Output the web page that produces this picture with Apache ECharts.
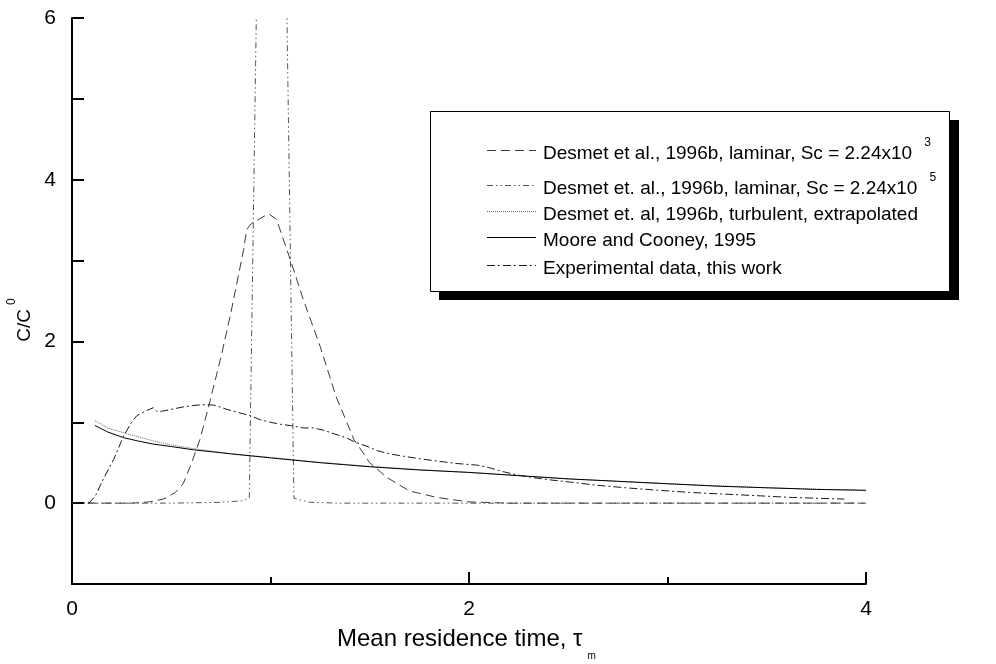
<!DOCTYPE html>
<html>
<head>
<meta charset="utf-8">
<script src="https://cdn.jsdelivr.net/npm/echarts@6/dist/echarts.min.js"></script>
<style>
  html, body { margin: 0; padding: 0; background: #fff; }
  #chart { width: 996px; height: 664px; }
</style>
</head>
<body>
<div id="chart"></div>
<script>
// Residence-time distributions: C/C0 versus mean residence time (tau_m)

// Desmet et al., 1996b, laminar, Sc = 2.24x10^3
const laminarSc3 = [
  [0.08, 0], [0.30, 0], [0.39, 0.015], [0.46, 0.05], [0.52, 0.13], [0.56, 0.24],
  [0.60, 0.48], [0.645, 0.79], [0.695, 1.26], [0.75, 1.80], [0.80, 2.35],
  [0.865, 3.14], [0.88, 3.38], [0.90, 3.45], [0.99, 3.58], [1.03, 3.51],
  [1.10, 3.01], [1.165, 2.52], [1.25, 1.94], [1.33, 1.32], [1.42, 0.79],
  [1.50, 0.50], [1.585, 0.32], [1.70, 0.15], [1.84, 0.07], [2.00, 0.015],
  [2.20, 0], [4.00, 0]
];

// Desmet et al., 1996b, laminar, Sc = 2.24x10^5 (peak runs far above the axis)
const laminarSc5 = [
  [0.08, 0], [0.50, 0], [0.75, 0.01], [0.86, 0.03], [0.893, 0.06],
  [1.006, 19], [1.118, 0.06], [1.20, 0.01], [1.35, 0], [4.00, 0]
];

// Desmet et al., 1996b, turbulent, extrapolated
const turbulent = [
  [0.116, 1.02], [0.18, 0.93], [0.275, 0.86], [0.35, 0.81], [0.41, 0.77],
  [0.50, 0.72], [0.61, 0.675], [0.80, 0.61], [1.00, 0.565], [1.25, 0.505],
  [1.50, 0.455], [1.75, 0.415], [2.00, 0.38], [2.50, 0.30], [3.00, 0.24],
  [3.50, 0.19], [4.00, 0.155]
];

// Moore and Cooney, 1995
const mooreCooney = [
  [0.116, 0.96], [0.18, 0.88], [0.26, 0.81], [0.33, 0.77], [0.41, 0.73],
  [0.50, 0.70], [0.61, 0.66], [0.80, 0.61], [1.00, 0.56], [1.25, 0.50],
  [1.50, 0.45], [1.75, 0.41], [2.00, 0.38], [2.25, 0.34], [2.50, 0.30],
  [2.75, 0.27], [3.00, 0.24], [3.25, 0.21], [3.50, 0.19], [3.75, 0.17],
  [4.00, 0.16]
];

// Experimental data, this work
const experimental = [
  [0, 0], [0.05, 0], [0.09, 0.01], [0.12, 0.10], [0.158, 0.30], [0.21, 0.54],
  [0.26, 0.83], [0.30, 1.00], [0.326, 1.08], [0.37, 1.14], [0.41, 1.18],
  [0.43, 1.13], [0.46, 1.14], [0.56, 1.19], [0.62, 1.21], [0.68, 1.22],
  [0.72, 1.21], [0.78, 1.16], [0.84, 1.12], [0.90, 1.08], [0.95, 1.03],
  [1.00, 1.00], [1.05, 0.975], [1.10, 0.96], [1.165, 0.93], [1.215, 0.93],
  [1.27, 0.90], [1.33, 0.85], [1.38, 0.81], [1.43, 0.75], [1.50, 0.69],
  [1.535, 0.65], [1.60, 0.61], [1.67, 0.58], [1.75, 0.55], [1.84, 0.52],
  [1.94, 0.49], [2.04, 0.47], [2.10, 0.44], [2.17, 0.39], [2.24, 0.35],
  [2.31, 0.32], [2.40, 0.29], [2.51, 0.26], [2.65, 0.22], [2.79, 0.19],
  [2.95, 0.16], [3.13, 0.13], [3.30, 0.11], [3.47, 0.09], [3.63, 0.07],
  [3.76, 0.06], [3.89, 0.05]
];

// Axis tick labels
const xTickLabels = [0, 2, 4];
const yTickLabels = [0, 2, 4, 6];

const FONT = '"Liberation Sans", Arial, Helvetica, sans-serif';

const styles = {
  sc3:   { color: '#3a3a3a', type: [9, 5] },
  sc5:   { color: '#555555', type: [6, 3, 1.5, 3, 1.5, 3] },
  turb:  { color: '#666666', type: [1, 1] },
  moore: { color: '#000000', type: 'solid' },
  exp:   { color: '#1a1a1a', type: [8, 3, 2, 3] }
};

function lineSeries(name, data, st) {
  return {
    name: name, type: 'line', data: data, showSymbol: false, symbol: 'none',
    clip: true, animation: false, silent: true,
    lineStyle: { color: st.color, width: 1, type: st.type }, z: 3
  };
}

// Legend block (boxed, with a drop shadow)
const legendRows = [
  { y: 150, st: styles.sc3, text: '{t|Desmet et al., 1996b, laminar, Sc = 2.24x10}{s|3}' },
  { y: 185, st: styles.sc5, text: '{t|Desmet et. al., 1996b, laminar, Sc = 2.24x10}{s|5}' },
  { y: 211, st: styles.turb, text: '{t|Desmet et. al, 1996b, turbulent, extrapolated}' },
  { y: 237, st: styles.moore, text: '{t|Moore and Cooney, 1995}' },
  { y: 265, st: styles.exp, text: '{t|Experimental data, this work}' }
];

const graphics = [
  { type: 'rect', shape: { x: 439, y: 120, width: 520, height: 180 }, style: { fill: '#000' }, z: 10 },
  { type: 'rect', shape: { x: 430.5, y: 111.5, width: 519, height: 180 }, style: { fill: '#fff', stroke: '#000', lineWidth: 1 }, z: 11 }
];
legendRows.forEach(function (r) {
  graphics.push({
    type: 'line', z: 12,
    shape: { x1: 487, y1: r.y + 0.5, x2: 536, y2: r.y + 0.5 },
    style: { stroke: r.st.color, lineWidth: 1, lineDash: Array.isArray(r.st.type) ? r.st.type : null }
  });
  graphics.push({
    type: 'text', z: 12, x: 543, y: r.y,
    style: {
      text: r.text, verticalAlign: 'middle', align: 'left',
      rich: {
        t: { fontFamily: FONT, fontSize: 19, fill: '#000', lineHeight: 26, verticalAlign: 'bottom' },
        s: { fontFamily: FONT, fontSize: 12, fill: '#000', lineHeight: 26, verticalAlign: 'top', padding: [0, 0, 0, 12] }
      }
    }
  });
});

// x-axis title with a separately placed subscript
const xTitle = 'Mean residence time, \u03C4';
const xTitleLeft = 337;
const measureCtx = document.createElement('canvas').getContext('2d');
measureCtx.font = '24px ' + FONT;
const xTitleWidth = measureCtx.measureText(xTitle).width;

graphics.push({
  type: 'text', x: xTitleLeft, y: 639, z: 5,
  style: { text: xTitle, font: '24px ' + FONT, fill: '#000', verticalAlign: 'middle', align: 'left' }
});
graphics.push({
  type: 'text', x: xTitleLeft + xTitleWidth + 5, y: 656, z: 5,
  style: { text: 'm', font: '10px ' + FONT, fill: '#000', verticalAlign: 'middle', align: 'left' }
});

// y-axis title with superscript
graphics.push({
  type: 'text', x: 20, y: 320, rotation: Math.PI / 2, z: 5,
  style: {
    text: '{t|C/C}{s|0}', verticalAlign: 'middle', align: 'center',
    rich: {
      t: { fontFamily: FONT, fontSize: 19, fill: '#000', lineHeight: 28, verticalAlign: 'bottom' },
      s: { fontFamily: FONT, fontSize: 12, fill: '#000', lineHeight: 28, verticalAlign: 'top', padding: [0, 0, 0, 4] }
    }
  }
});

const chart = echarts.init(document.getElementById('chart'), null, { renderer: 'canvas' });
chart.setOption({
  backgroundColor: '#fff',
  animation: false,
  grid: { left: 72, right: 130, top: 18, bottom: 80, containLabel: false },
  xAxis: {
    type: 'value', min: 0, max: 4, interval: 2,
    axisLine: { show: true, onZero: false, lineStyle: { color: '#000', width: 2 } },
    axisTick: { show: true, inside: true, length: 12, lineStyle: { color: '#000', width: 2 } },
    minorTick: { show: true, splitNumber: 2, length: 7, lineStyle: { color: '#000', width: 2 } },
    axisLabel: {
      margin: 15, color: '#000', fontFamily: FONT, fontSize: 21,
      formatter: function (v) { return xTickLabels.indexOf(v) >= 0 ? String(v) : ''; }
    },
    splitLine: { show: false }
  },
  yAxis: {
    type: 'value', min: -1, max: 6, interval: 1,
    axisLine: { show: true, onZero: false, lineStyle: { color: '#000', width: 2 } },
    axisTick: { show: true, inside: true, length: 12, lineStyle: { color: '#000', width: 2 } },
    axisLabel: {
      margin: 16, color: '#000', fontFamily: FONT, fontSize: 21,
      formatter: function (v) { return yTickLabels.indexOf(v) >= 0 ? String(v) : ''; }
    },
    splitLine: { show: false }
  },
  series: [
    lineSeries('Desmet et al., 1996b, laminar, Sc = 2.24x10^3', laminarSc3, styles.sc3),
    lineSeries('Desmet et. al., 1996b, laminar, Sc = 2.24x10^5', laminarSc5, styles.sc5),
    lineSeries('Desmet et. al, 1996b, turbulent, extrapolated', turbulent, styles.turb),
    lineSeries('Moore and Cooney, 1995', mooreCooney, styles.moore),
    lineSeries('Experimental data, this work', experimental, styles.exp)
  ],
  graphic: graphics
});
</script>
</body>
</html>
